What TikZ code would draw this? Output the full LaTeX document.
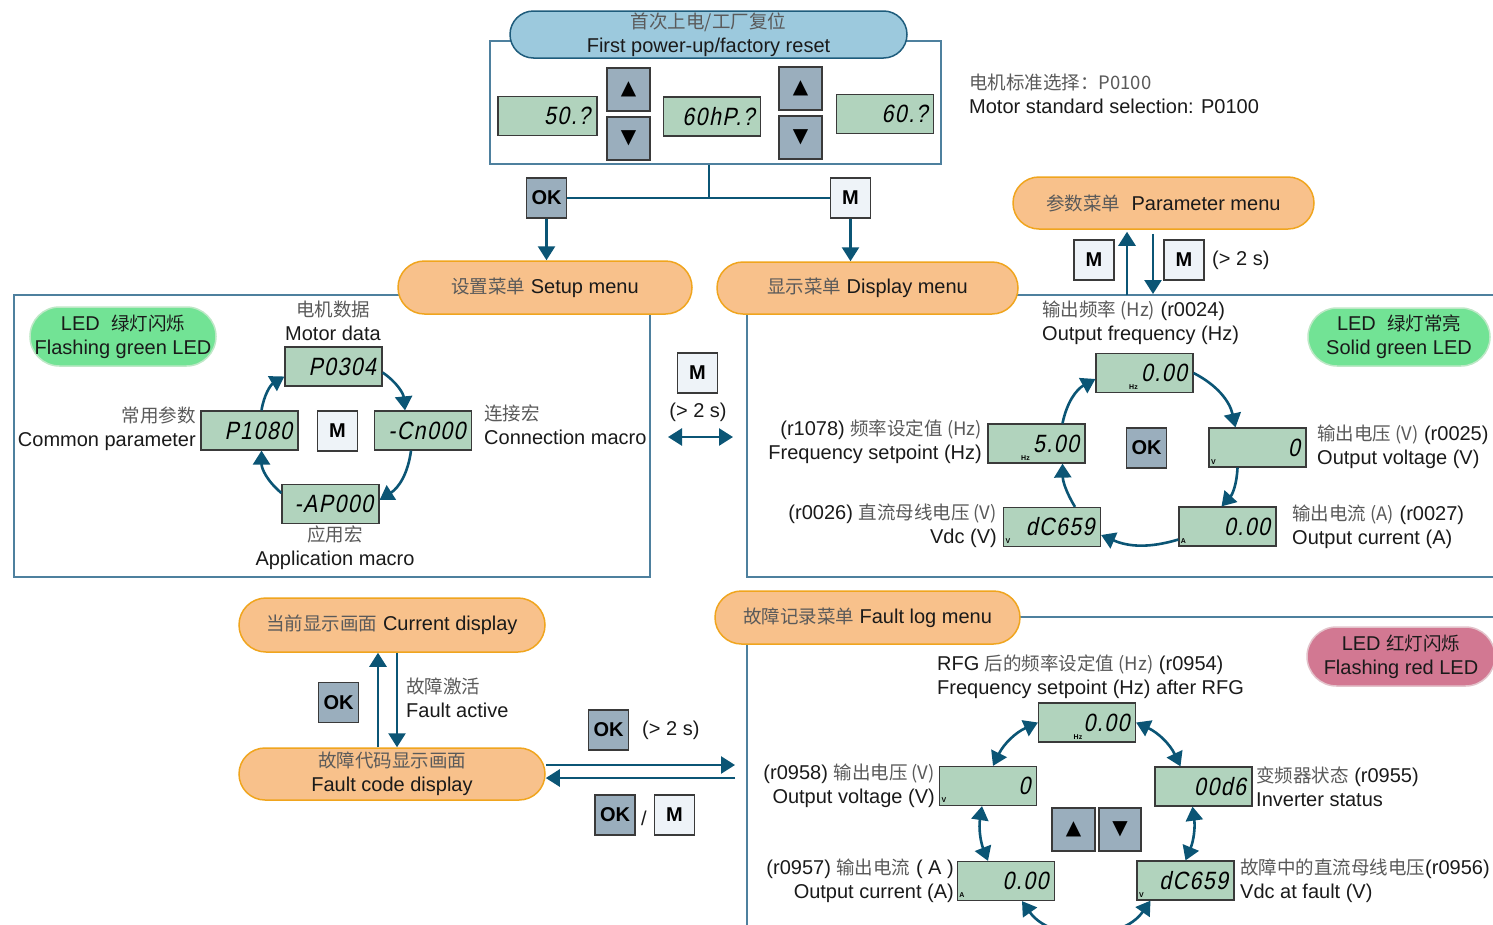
\documentclass[tikz,border=0pt]{standalone}
\usepackage{fontspec}
\setmainfont{Liberation Sans}
\newfontfamily\cjk{Noto Sans CJK SC}
\newfontfamily\lcdfont[FakeSlant=0.2,FakeStretch=0.85,LetterSpace=6]{Liberation Sans}
\newfontfamily\symfont{DejaVu Sans}
\usetikzlibrary{arrows.meta,calc}
\definecolor{arrowblue}{HTML}{0B5575}
\definecolor{framec}{HTML}{4E809E}
\definecolor{lcdgreen}{HTML}{B1D3BD}
\definecolor{lcdborder}{HTML}{3A3A3A}
\definecolor{btndark}{HTML}{9AAEBD}
\definecolor{btnlight}{HTML}{EEF3F8}
\definecolor{orangefill}{HTML}{F8C18B}
\definecolor{orangeedge}{HTML}{F0A51E}
\definecolor{bluefill}{HTML}{9CC9DD}
\definecolor{blueedge}{HTML}{1E5C7C}
\definecolor{greenled}{HTML}{72E395}
\definecolor{greenedge}{HTML}{BDE8C6}
\definecolor{redled}{HTML}{D27892}
\definecolor{rededge}{HTML}{E3C3CB}
\definecolor{zhgray}{HTML}{5A5A5A}
\definecolor{txt}{HTML}{1A1A1A}
\newcommand{\zh}[1]{{\cjk\fontsize{18.5}{24}\selectfont\color{zhgray}#1}}
\newcommand{\zk}[1]{{\cjk\fontsize{18.5}{24}\selectfont\color{txt}#1}}
\begin{document}
\begin{tikzpicture}[x=1pt,y=-1pt,
  lbl/.style={font=\fontsize{20}{24}\selectfont, text=txt, inner sep=0pt},
  frame/.style={draw=framec, line width=1.2pt},
  lcd/.style={draw=lcdborder, line width=1.2pt, fill=lcdgreen, minimum height=39pt, text width=85pt, inner xsep=6pt, inner ysep=0pt, align=right, font=\lcdfont\fontsize{25}{25}\selectfont, text=black},
  unit/.style={font=\bfseries\fontsize{7}{7}\selectfont, inner sep=0pt, text=black},
  btn/.style={draw=lcdborder, line width=1.2pt, minimum width=40pt, minimum height=40pt, inner sep=0pt, font=\bfseries\fontsize{20}{20}\selectfont, text=black},
  okbtn/.style={btn, fill=btndark},
  mbtn/.style={btn, fill=btnlight},
  tribtn/.style={btn, fill=btndark, minimum width=43pt, minimum height=43pt, font=\symfont\fontsize{20}{20}\selectfont},
  menu/.style={draw=orangeedge, line width=1.5pt, fill=orangefill, inner sep=0pt, align=center, font=\fontsize{20}{24}\selectfont, text=txt},
  startnode/.style={draw=blueedge, line width=1.5pt, fill=bluefill, inner sep=0pt, align=center, font=\fontsize{20}{24}\selectfont, text=txt},
  ledg/.style={draw=greenedge, line width=1.5pt, fill=greenled, inner sep=0pt, align=center, font=\fontsize{20}{24}\selectfont, text=txt},
  ledr/.style={draw=rededge, line width=1.5pt, fill=redled, inner sep=0pt, align=center, font=\fontsize{20}{24}\selectfont, text=txt},
  arr/.style={draw=arrowblue, line width=2.6pt, -{Triangle[length=14pt,width=17pt]}},
  darr/.style={draw=arrowblue, line width=2.6pt, {Triangle[length=14pt,width=17pt]}-{Triangle[length=14pt,width=17pt]}},
  conn/.style={draw=arrowblue, line width=2.6pt}
]
\clip (0,0) rectangle (1493,924);
\fill[white] (0,0) rectangle (1493,924);

% ---------- frames ----------
\node[frame, minimum width=451pt, minimum height=123pt] (topbox) at (715.5,102.5) {};
\draw[frame] (14,295) rectangle (650,577);
\draw[frame] (747,295) rectangle (1500,577);
\draw[frame] (747,617) rectangle (1500,930);

% ---------- top ----------
\node[startnode, rounded corners=23.5pt, minimum width=397pt, minimum height=47pt] (start) at (708.5,34.5) {\zh{首次上电/工厂复位}\\First power-up/factory reset};
\node[lcd, minimum width=99pt] (t50) at (547.5,116) {50.?};
\node[lcd] (t60hp) at (712,116.5) {60hP.?};
\node[lcd] (t60) at (885,114) {60.?};
\node[tribtn] (up1) at (628.5,89.5) {▲};
\node[tribtn] (dn1) at (628.5,138.5) {▼};
\node[tribtn] (up2) at (800.5,88.5) {▲};
\node[tribtn] (dn2) at (800.5,137.5) {▼};
\node[lbl, anchor=west, align=left] (motorstd) at (969,94) {\zh{电机标准选择：P0100}\\Motor standard selection: P0100};

\node[okbtn] (okA) at (546.5,198) {OK};
\node[mbtn] (mA) at (850.5,198) {M};
\coordinate (jtop) at ([xshift=-6.5pt]topbox.south);
\draw[conn] (jtop) -- (jtop |- okA.east);
\draw[conn] (okA.east) -- (mA.west);

% ---------- menus ----------
\node[menu, rounded corners=26.5pt, minimum width=294pt, minimum height=53pt] (setup) at (545,287.5) {\zh{设置菜单} Setup menu};
\node[menu, rounded corners=26pt, minimum width=301pt, minimum height=52pt] (display) at (867.5,288) {\zh{显示菜单} Display menu};
\node[menu, rounded corners=26pt, minimum width=301pt, minimum height=52pt] (param) at (1163.5,203) {\zh{参数菜单}\ \ Parameter menu};
\draw[arr] (okA.south) -- (okA.south |- setup.north);
\draw[arr] (mA.south) -- (mA.south |- display.north);

% parameter menu arrows
\coordinate (pu0) at (1127,295);
\coordinate (pd1) at (1153,294);
\draw[arr] (pu0) -- ([yshift=-2pt]pu0 |- param.south);
\draw[arr] ([yshift=-4pt]pd1 |- param.south) -- (pd1);
\node[mbtn] (mP1) at (1094,260) {M};
\node[mbtn] (mP2) at (1184,260) {M};
\node[lbl, anchor=west] (gt2b) at (1212,260) {(> 2 s)};

% ---------- setup menu content ----------
\node[ledg, rounded corners=29.5pt, minimum width=186pt, minimum height=59pt] (ledg1) at (123,336.5) {LED\ \ \zk{绿灯闪烁}\\Flashing green LED};
\node[lcd] (p0304) at (333.5,366.5) {P0304};
\node[lcd] (p1080) at (249.5,430.5) {P1080};
\node[lcd] (cn000) at (423,430.5) {-Cn000};
\node[lcd] (ap000) at (330.5,504) {-AP000};
\node[mbtn] (mS) at (337.5,431) {M};
\node[lbl, align=center] (mdata) at (333,321) {\zh{电机数据}\\Motor data};
\node[lbl, anchor=east, align=right] (common) at (196,429) {\zh{常用参数}\\Common parameter};
\node[lbl, anchor=west, align=left] (connm) at (484,425) {\zh{连接宏}\\Connection macro};
\node[lbl, align=center] (appm) at (335,548) {\zh{应用宏}\\Application macro};
\draw[arr] ([yshift=-6pt]p0304.east) to[bend left=25] ([xshift=-18pt]cn000.north);
\draw[arr] ([xshift=-12pt]cn000.south) to[bend left=25] ([yshift=4pt]ap000.east);
\draw[arr] ([yshift=11pt]ap000.west) to[bend left=25] ([xshift=12pt]p1080.south);
\draw[arr] ([xshift=12pt]p1080.north) to[bend left=25] ([yshift=-10pt]p0304.west);

% ---------- middle ----------
\node[mbtn] (mMid) at (697.5,373) {M};
\node[lbl] (gt2a) at (698,412) {(> 2 s)};
\coordinate (ml) at (668,437);
\coordinate (mr) at (733,437);
\draw[darr] (ml) -- (mr);

% ---------- display menu content ----------
\node[ledg, rounded corners=29pt, minimum width=182pt, minimum height=58pt] (ledg2) at (1399,337) {LED\ \ \zk{绿灯常亮}\\Solid green LED};
\node[lcd] (d0hz) at (1144.5,373) {0.00};
\node[lcd] (d5) at (1036.5,443.5) {5.00};
\node[lcd] (d0v) at (1257.5,447.5) {0};
\node[lcd] (ddc) at (1052,527) {dC659};
\node[lcd] (d0a) at (1227.5,526.5) {0.00};
\node[okbtn] (okD) at (1146.5,448) {OK};
\node[unit] (u1) at ([xshift=-11pt,yshift=6pt]d0hz.south) {Hz};
\node[unit] (u2) at ([xshift=-11pt,yshift=6pt]d5.south) {Hz};
\node[unit] (u3) at ([xshift=5pt,yshift=6pt]d0v.south west) {V};
\node[unit] (u4) at ([xshift=5pt,yshift=6pt]ddc.south west) {V};
\node[unit] (u5) at ([xshift=5pt,yshift=6pt]d0a.south west) {A};
\node[lbl, anchor=west, align=left] (of) at (1042,323) {\zh{输出频率 (Hz)} (r0024)\\Output frequency (Hz)};
\node[lbl, anchor=east, align=right] (fs) at (982,442) {(r1078) \zh{频率设定值 (Hz)}\\Frequency setpoint (Hz)};
\node[lbl, anchor=west, align=left] (ov) at (1317,447) {\zh{输出电压 (V)} (r0025)\\Output voltage (V)};
\node[lbl, anchor=east, align=right] (vdc) at (997,526) {(r0026) \zh{直流母线电压 (V)}\\Vdc (V)};
\node[lbl, anchor=west, align=left] (oc) at (1292,527) {\zh{输出电流 (A)} (r0027)\\Output current (A)};
\draw[arr] ([xshift=23pt]ddc.north) to[bend left=15] ([xshift=26pt]d5.south);
\draw[arr] ([xshift=26pt]d5.north) to[bend left=25] ([yshift=-6pt]d0hz.west);
\draw[arr] (d0hz.east) to[bend left=25] ([xshift=-22pt]d0v.north);
\draw[arr] ([xshift=-20pt]d0v.south) to[bend left=20] ([xshift=-6pt]d0a.north);
\draw[arr] ([yshift=-13pt]d0a.west) to[bend left=20] ([yshift=-8pt]ddc.east);

% ---------- bottom left ----------
\node[menu, rounded corners=27pt, minimum width=306pt, minimum height=54pt] (cur) at (392,625) {\zh{当前显示画面} Current display};
\node[menu, rounded corners=26pt, minimum width=306pt, minimum height=52pt] (fcd) at (392,774) {\zh{故障代码显示画面}\\Fault code display};
\draw[arr] ([xshift=-14pt]fcd.north) -- ([xshift=-14pt]cur.south);
\draw[arr] ([xshift=5pt]cur.south) -- ([xshift=5pt]fcd.north);
\node[okbtn] (okC) at (338.5,702.5) {OK};
\node[lbl, anchor=west, align=left] (fa) at (406,698) {\zh{故障激活}\\Fault active};
\node[okbtn] (okF1) at (608.5,730) {OK};
\node[lbl, anchor=west] (gt2c) at (642,730) {(> 2 s)};
\coordinate (rt) at (735,765);
\coordinate (lt) at (735,778);
\draw[arr] ([yshift=9pt]fcd.east) -- (rt);
\draw[arr] (lt) -- ([yshift=-4pt]fcd.east);
\node[okbtn] (okF2) at (615,815) {OK};
\node[lbl] (slash) at (644,818) {/};
\node[mbtn] (mF) at (674.5,815) {M};

% ---------- fault log ----------
\node[menu, rounded corners=26.5pt, minimum width=305pt, minimum height=53pt] (flog) at (867.5,617.5) {\zh{故障记录菜单} Fault log menu};
\node[ledr, rounded corners=29.5pt, minimum width=188pt, minimum height=59pt] (ledr) at (1401,656.5) {LED \zk{红灯闪烁}\\Flashing red LED};
\node[lcd] (f0hz) at (1087,722.5) {0.00};
\node[lcd] (f0v) at (988,786) {0};
\node[lcd] (f00d6) at (1203.5,786.5) {00d6};
\node[lcd] (f0a) at (1006,881) {0.00};
\node[lcd] (fdc) at (1185.5,880.5) {dC659};
\node[tribtn] (upF) at (1073.5,829.5) {▲};
\node[tribtn, minimum width=42pt] (dnF) at (1120,829.5) {▼};
\node[unit] (u6) at ([xshift=-9pt,yshift=6pt]f0hz.south) {Hz};
\node[unit] (u7) at ([xshift=5pt,yshift=6pt]f0v.south west) {V};
\node[unit] (u8) at ([xshift=5pt,yshift=6pt]f0a.south west) {A};
\node[unit] (u9) at ([xshift=5pt,yshift=6pt]fdc.south west) {V};
\node[lbl, anchor=west, align=left] (rfg) at (937,677) {RFG \zh{后的频率设定值 (Hz)} (r0954)\\Frequency setpoint (Hz) after RFG};
\node[lbl, anchor=east, align=right] (fov) at (935,786) {(r0958) \zh{输出电压 (V)}\\Output voltage (V)};
\node[lbl, anchor=west, align=left] (inv) at (1256,787) {\zh{变频器状态} (r0955)\\Inverter status};
\node[lbl, anchor=east, align=right] (foc) at (954,881) {(r0957) \zh{输出电流} ( A )\\Output current (A)};
\node[lbl, anchor=west, align=left] (vdcf) at (1240,881) {\zh{故障中的直流母线电压}(r0956)\\Vdc at fault (V)};
\draw[darr] ([xshift=5pt]f0v.north) to[bend left=20] (f0hz.west);
\draw[darr] (f0hz.east) to[bend left=20] ([xshift=-23pt]f00d6.north);
\draw[darr] ([xshift=-11pt]f00d6.south) to[bend left=15] (fdc.north);
\draw[darr] ([xshift=-35pt]fdc.south) to[bend left=55] ([xshift=16pt]f0a.south);
\draw[darr] ([xshift=-18pt]f0a.north) to[bend left=15] ([xshift=-6pt]f0v.south);
\end{tikzpicture}
\end{document}
